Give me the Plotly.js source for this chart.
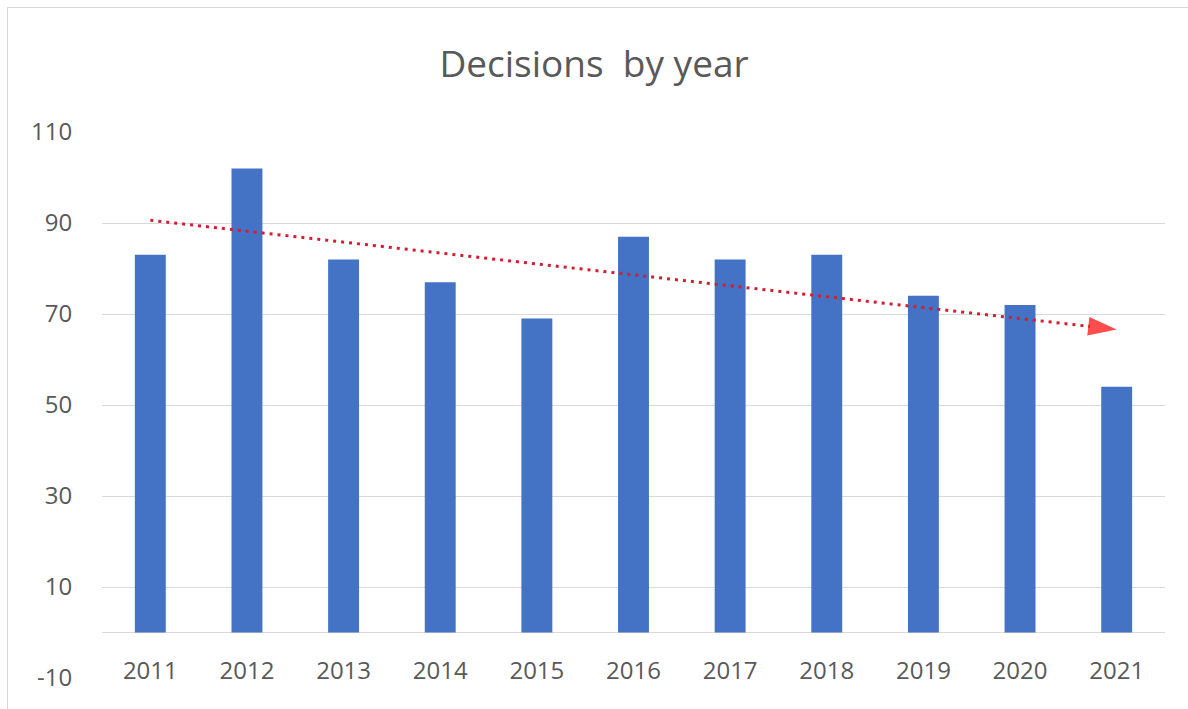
<!DOCTYPE html>
<html>
<head>
<meta charset="utf-8">
<script src="https://cdn.plot.ly/plotly-3.0.1.min.js"></script>
<style>
  html, body { margin: 0; padding: 0; background: #fff; }
  #wrap { position: relative; width: 1188px; height: 709px; }
  #chart { width: 1188px; height: 709px; }
  #frame { position: absolute; left: 7px; top: 7px; right: 0; bottom: 0;
           border-left: 1px solid #d9d9d9; border-top: 1px solid #d9d9d9; pointer-events: none; }
</style>
</head>
<body>
<div id="wrap"><div id="chart"></div><div id="frame"></div></div>
<script>
const years = ['2011','2012','2013','2014','2015','2016','2017','2018','2019','2020','2021'];
const decisions = [83, 102, 82, 77, 69, 87, 82, 83, 74, 72, 54];
// linear trendline (start at 2011, arrow tip at 2021)
const trendYears = [2011, 2021];
const trendValues = [90.6, 66.6];
const yTickVals = [-10, 10, 30, 50, 70, 90, 110];
const yTickText = ['-10', '10', '30', '50', '70', '90', '110'];

const bars = {
  type: 'bar', x: years, y: decisions,
  marker: { color: '#4472c4' },
  hoverinfo: 'x+y'
};
const trend = {
  type: 'scatter', mode: 'lines+markers', x: trendYears, y: trendValues,
  xaxis: 'x2',
  line: { color: 'rgb(210,30,50)', width: 3, dash: '3px,5px' },
  marker: { symbol: 'arrow', angleref: 'previous', size: [0, 30], color: '#ff0000', line: { width: 0 } },
  hoverinfo: 'skip'
};

const layout = {
  width: 1188, height: 709,
  margin: { l: 102, r: 23, t: 132, b: 31 },
  paper_bgcolor: '#ffffff', plot_bgcolor: '#ffffff',
  showlegend: false,
  bargap: 0.68,
  title: {
    text: 'Decisions  by year',
    font: { family: 'Open Sans, sans-serif', size: 37, color: '#595959' },
    x: 0.5, xanchor: 'center', y: 0.91, yanchor: 'middle'
  },
  font: { family: 'Open Sans, sans-serif', color: '#595959' },
  xaxis: {
    type: 'category',
    range: [-0.5, 10.5],
    anchor: 'free', position: 10/120,
    showgrid: false, showline: false, zeroline: false,
    ticks: 'outside', ticklen: 17, tickcolor: 'rgba(0,0,0,0)',
    tickfont: { size: 24, color: '#595959' }
  },
  xaxis2: {
    type: 'linear', overlaying: 'x', range: [2010.5, 2021.5],
    visible: false, showgrid: false, zeroline: false
  },
  yaxis: {
    range: [-10, 110],
    tickmode: 'array', tickvals: yTickVals, ticktext: yTickText,
    showgrid: true, gridcolor: '#d9d9d9', gridwidth: 1,
    zeroline: true, zerolinecolor: '#d9d9d9', zerolinewidth: 1,
    showline: false,
    ticks: 'outside', ticklen: 24, tickcolor: 'rgba(0,0,0,0)',
    tickfont: { size: 24, color: '#595959' }
  }
};

Plotly.newPlot('chart', [bars, trend], layout, { displayModeBar: false, staticPlot: true });
</script>
</body>
</html>
